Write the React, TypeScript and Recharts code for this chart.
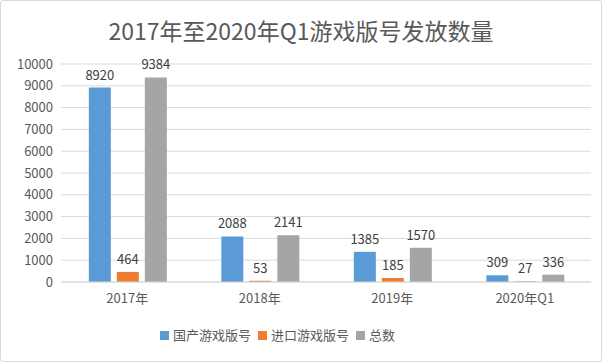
import React from 'react'
import {
  Bar,
  BarChart,
  CartesianGrid,
  LabelList,
  Legend,
  XAxis,
  YAxis,
} from 'recharts'

const categories = ['2017年', '2018年', '2019年', '2020年Q1']
const domestic = [8920, 2088, 1385, 309]
const imported = [464, 53, 185, 27]
const total = [9384, 2141, 1570, 336]
const yTicks = [0, 1000, 2000, 3000, 4000, 5000, 6000, 7000, 8000, 9000, 10000]

const seriesNames = ['国产游戏版号', '进口游戏版号', '总数']
const seriesColors = ['#5b9bd5', '#ed7d31', '#a5a5a5']

const data = categories.map((name, i) => ({
  name,
  国产游戏版号: domestic[i],
  进口游戏版号: imported[i],
  总数: total[i],
}))

const font = '"Noto Sans CJK SC", "Noto Sans", sans-serif'

// keep series order in the legend (recharts sorts it otherwise)
const LegendContent = () => (
  <div
    style={{
      display: 'flex',
      justifyContent: 'center',
      fontSize: 13,
      lineHeight: '18px',
      color: '#595959',
      whiteSpace: 'nowrap',
    }}
  >
    {seriesNames.map((n, i) => (
      <div key={n} style={{ display: 'flex', alignItems: 'center', marginRight: 7 }}>
        <span
          style={{
            display: 'inline-block',
            width: 9,
            height: 9,
            background: seriesColors[i],
            marginRight: 4,
          }}
        />
        {n}
      </div>
    ))}
  </div>
)

const App = () => {
  return (
    <div
      style={{
        position: 'absolute',
        left: 0,
        top: 0,
        width: 600,
        height: 360,
        border: '1px solid #d9d9d9',
        borderRadius: 3,
        background: '#fff',
        fontFamily: font,
      }}
    >
      <div
        style={{
          position: 'absolute',
          top: 12,
          width: '100%',
          textAlign: 'center',
          fontSize: 23,
          color: '#595959',
        }}
      >
        2017年至2020年Q1游戏版号发放数量
      </div>
      <div style={{ position: 'absolute', left: 0, top: 0 }}>
        <BarChart
          width={600}
          height={360}
          data={data}
          margin={{ top: 63, right: 10, left: 0, bottom: 17 }}
          barCategoryGap='21%'
          barGap={6}
        >
          <CartesianGrid vertical={false} stroke='#d9d9d9' />
          <XAxis
            dataKey='name'
            tickLine={false}
            axisLine={{ stroke: '#d9d9d9' }}
            tick={{ fill: '#595959', fontSize: 13, dy: 4 }}
            height={30}
          />
          <YAxis
            domain={[0, 10000]}
            ticks={yTicks}
            interval={0}
            tickLine={false}
            axisLine={false}
            tick={{ fill: '#595959', fontSize: 13 }}
            width={60}
          />
          <Legend
            verticalAlign='bottom'
            content={LegendContent}
            wrapperStyle={{ left: 140, width: 280, paddingTop: 14 }}
          />
          <Bar dataKey='国产游戏版号' fill={seriesColors[0]} isAnimationActive={false}>
            <LabelList dataKey='国产游戏版号' position='top' offset={8} fill='#404040' fontSize={13} />
          </Bar>
          <Bar dataKey='进口游戏版号' fill={seriesColors[1]} isAnimationActive={false}>
            <LabelList dataKey='进口游戏版号' position='top' offset={8} fill='#404040' fontSize={13} />
          </Bar>
          <Bar dataKey='总数' fill={seriesColors[2]} isAnimationActive={false}>
            <LabelList dataKey='总数' position='top' offset={8} fill='#404040' fontSize={13} />
          </Bar>
        </BarChart>
      </div>
    </div>
  )
}

export default App
